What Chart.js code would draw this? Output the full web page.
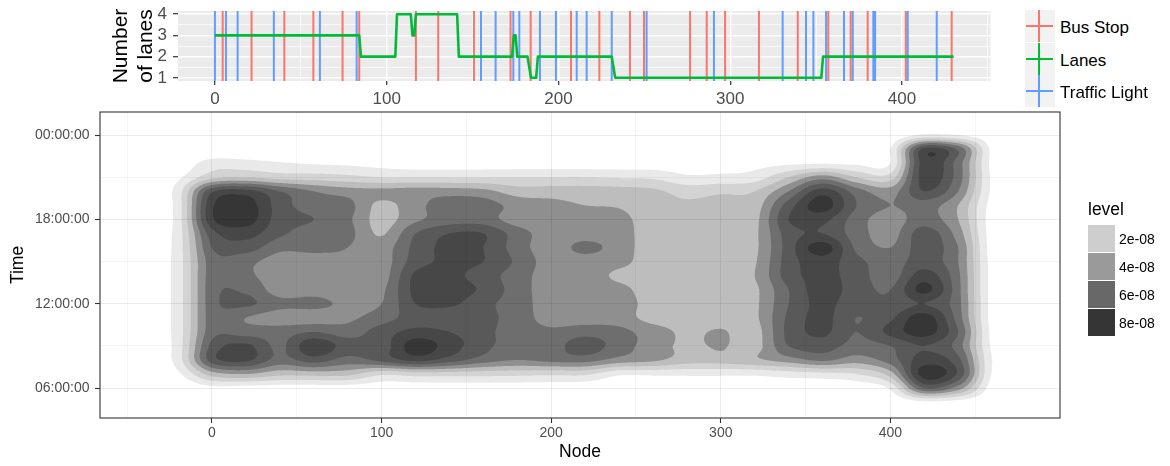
<!DOCTYPE html>
<html lang="en">
<head>
<meta charset="utf-8">
<title>Lanes and activity density by node</title>
<script src="https://cdn.jsdelivr.net/npm/chart.js@4.4.1/dist/chart.umd.min.js"></script>
<style>
  html, body { margin: 0; padding: 0; background: #fff; }
  body { width: 1170px; height: 466px; position: relative; overflow: hidden;
         font-family: "Liberation Sans", Arial, sans-serif; color: #000; }
  canvas { position: absolute; }
  #laneChart { left: 0; top: 0; }
  #densityChart { left: 0; top: 100px; }
  .lane-row { position: absolute; left: 1025px; height: 32px; display: flex; align-items: center; }
  .lane-key { position: relative; width: 30px; height: 32px; background: #f2f2f2; flex: none; }
  .lane-key .v { position: absolute; left: 12.5px; width: 2px; top: 0; bottom: 0; }
  .lane-key .h { position: absolute; left: 1px; width: 27px; top: 15px; height: 2px; }
  .lane-text { margin-left: 5px; padding-top: 3px; font-size: 17px; line-height: 1; white-space: nowrap; }
  .level-title { position: absolute; left: 1088px; top: 201px; font-size: 17.5px; line-height: 1; }
  .level-row { position: absolute; left: 1088px; height: 27px; display: flex; align-items: center; }
  .level-key { width: 27px; height: 27px; flex: none; }
  .level-text { margin-left: 4px; font-size: 14px; line-height: 1; }
</style>
</head>
<body>
<canvas id="laneChart" width="1010" height="108"></canvas>
<canvas id="densityChart" width="1170" height="366"></canvas>
<div id="laneLegend"></div>
<div id="levelLegend"></div>
<script>
// ---------------- Road profile along the route ----------------
const laneNodes  = [0, 84, 85, 105, 106, 114, 115, 116, 117, 141, 142, 173, 174, 175, 176, 182, 183, 184, 187, 188, 231, 232, 233, 353, 354, 430];
const laneCounts = [3, 3, 2, 2, 4, 4, 3, 3, 4, 4, 2, 2, 3, 3, 2, 2, 1.5, 1, 1, 2, 2, 1.5, 1, 1, 2, 2];
const busStopNodes = [4.5, 21.3, 40.4, 57.3, 74.3, 84, 117, 130, 150.8, 172.1, 183.8, 207.3, 223.8,
                      241.6, 249.8, 276.6, 286.3, 297, 316.7, 339.3, 357.1, 370.1, 380, 402.2, 428.9];
const trafficLightNodes = [0, 6.4, 13.2, 34.3, 61.1, 82.5, 154.9, 163.4, 173.7, 177.2, 189.2, 198.5,
                           210.6, 216.4, 231, 251.3, 290.5, 330.5, 344.1, 348.4, 355.8, 366.2, 371.3,
                           383.3, 384.3, 403.3, 420.2];
const laneTicks = [1, 2, 3, 4];
const laneMinorTicks = [1.5, 2.5, 3.5];
const nodeTicks = [0, 100, 200, 300, 400];
const laneNodeMinorTicks = [50, 150, 250, 350, 450];

// ---------------- 2-D density of activity (units of 1e-08) ----------------
const gridNodes = [-40, -20, 0, 20, 40, 60, 80, 100, 120, 140, 160, 180, 200, 220, 240, 260,
                   280, 300, 320, 340, 360, 380, 400, 420, 440, 460, 480];
const gridHours = [25, 24, 23, 22, 21, 20, 19, 18, 17, 16, 15, 14, 13, 12, 11, 10, 9, 8, 7, 6, 5, 4];
const densityRows = [
  [0,0,0,0,0,0,0,0,0,0,0,0,0,0,0,0,0,0,0,0,0,0,0,0,0,0,0],
  [0,0,0,0,0,0,0,0,0,0,0,0,0,0,0,0,0,0,0,0,0,0,0.2,1.2,1.0,0.3,0],
  [0,0,0,0,0,0,0,0,0,0,0,0,0,0,0,0,0,0,0,0,0,0,1.0,7.3,5.8,0.7,0],
  [0,0.2,1.5,1.4,1.1,0.9,0.8,0.6,0.4,0.4,0.4,0.4,0.4,0.4,0.4,0.4,0.3,0.3,0.6,0.8,0.9,0.8,1.0,7.5,5.5,0.7,0],
  [0,0.8,2.7,3.0,2.6,2.5,2.3,2.0,2.0,2.0,2.0,2.0,2.0,2.0,1.9,1.8,1.2,1.3,1.5,3.0,4.5,3.0,2.5,7.5,5.5,0.8,0],
  [0,1.5,6.8,7.4,6.0,5.0,4.5,4.3,4.5,4.5,4.3,3.5,3.5,3.5,3.4,3.2,2.6,2.8,3.0,5.0,7.5,5.5,4.5,7.0,5.0,0.8,0],
  [0,1.5,7.8,8.5,6.5,5.5,5.3,3.7,4.7,5.5,5.5,4.6,4.3,4.0,3.9,3.4,3.2,3.4,3.5,6.5,8.5,6.0,5.0,5.5,4.0,0.6,0],
  [0,1.5,7.8,8.5,6.5,6.0,5.2,3.6,4.8,5.5,5.5,4.5,4.5,4.5,4.3,3.5,3.5,3.5,3.7,7.0,7.3,5.5,4.5,5.5,4.0,0.5,0],
  [0,1.5,6.6,7.4,6.2,5.5,5.3,3.9,6.0,7.0,7.0,5.5,4.5,4.5,4.4,3.5,3.5,3.5,3.8,6.5,7.0,5.5,4.6,6.5,4.5,0.5,0],
  [0,1.5,6.0,6.5,5.3,5.3,5.0,4.5,6.3,7.3,7.0,5.5,4.5,5.3,4.5,3.5,3.5,3.5,3.8,6.5,8.5,5.8,5.0,6.5,5.0,0.5,0],
  [0,1.5,5.5,5.3,4.5,4.5,4.8,4.5,6.5,7.2,7.0,5.8,4.5,4.5,4.3,3.5,3.5,3.5,3.9,6.5,7.5,6.3,5.5,6.5,5.0,0.6,0],
  [0,1.5,5.5,5.2,4.5,4.5,4.5,4.5,7.2,7.3,6.5,5.5,4.5,4.5,3.8,3.5,3.5,3.5,4.0,6.5,7.3,6.5,5.5,7.5,5.2,0.6,0],
  [0,1.5,5.6,5.8,4.5,4.6,4.5,4.8,7.3,7.5,6.8,5.5,4.5,4.5,4.3,3.5,3.5,3.5,3.8,6.0,7.5,6.5,6.0,8.3,5.3,0.6,0],
  [0,1.5,5.6,6.2,5.3,5.3,4.8,5.0,7.0,7.2,6.3,5.5,4.5,4.5,4.5,3.6,3.5,3.5,3.8,6.0,7.3,6.3,6.2,7.0,5.3,0.6,0],
  [0,1.5,5.5,5.0,4.5,4.5,4.8,5.5,6.5,6.3,6.3,5.5,4.6,4.5,4.5,3.6,3.5,3.5,3.8,6.2,7.3,6.0,6.8,8.5,5.5,0.6,0],
  [0,1.5,5.6,5.5,5.5,6.0,5.5,6.5,7.3,7.0,6.3,5.5,5.2,5.6,5.3,4.5,3.8,4.1,3.6,6.3,7.2,6.0,7.3,8.5,6.0,0.7,0],
  [0,1.5,6.3,7.2,5.8,7.8,6.5,6.5,8.5,7.5,6.3,5.5,5.6,6.5,5.5,4.5,3.8,4.1,3.6,6.0,6.5,5.6,6.0,7.0,5.5,0.8,0],
  [0,1.5,6.5,7.2,5.6,6.5,5.6,6.3,7.3,6.5,5.5,5.0,5.3,5.4,4.6,4.2,3.5,3.5,3.8,4.5,5.2,4.5,5.5,7.5,6.3,1.0,0],
  [0,0.8,3.5,4.0,3.3,3.4,3.3,2.2,2.5,2.5,2.4,2.3,2.2,2.2,1.2,1.2,1.2,1.2,1.2,1.5,1.7,2.0,3.5,8.5,6.8,0.9,0],
  [0,0.1,0.7,0.6,0.5,0.5,0.5,0.4,0.4,0.4,0.4,0.4,0.4,0.3,0.2,0.2,0.2,0.2,0.2,0.2,0.2,0.3,1.2,6.0,4.5,0.5,0],
  [0,0,0,0,0,0,0,0,0,0,0,0,0,0,0,0,0,0,0,0,0,0,0.2,0.8,0.6,0.1,0],
  [0,0,0,0,0,0,0,0,0,0,0,0,0,0,0,0,0,0,0,0,0,0,0,0,0,0,0]
];
const densityLevels = [1, 2, 3, 4, 5, 6, 7, 8];         // contour breaks, x 1e-08
const legendLevels = [2, 4, 6, 8];
const densityNodeTicks = [0, 100, 200, 300, 400];
const densityNodeMinorTicks = [-50, 50, 150, 250, 350, 450];
const timeTickHours = [6, 12, 18, 24];
const timeTickLabels = ['06:00:00', '12:00:00', '18:00:00', '00:00:00'];
const timeMinorHours = [9, 15, 21];

// ---------------- styling ----------------
const FONT = '"Liberation Sans", Arial, sans-serif';
const seriesColors = { busStop: '#F8766D', lanes: '#00BA38', trafficLight: '#619CFF' };
// fill of the region above each break (stacked semi-dense polygons)
const levelFills = ['#e9e9e9', '#d3d3d3', '#bdbdbd', '#8f8f8f', '#6e6e6e', '#595959', '#474747', '#363636'];
// colour keys of the level scale
const levelKeyFills = { 2: '#cecece', 4: '#9a9a9a', 6: '#686868', 8: '#353535' };
Chart.defaults.font.family = FONT;

function levelIndex(v) {
  let k = 0;
  while (k < densityLevels.length && v >= densityLevels[k]) k++;
  return k;
}
const levelGrays = levelFills.map(c => parseInt(c.slice(1, 3), 16));
function fillGray(k) { return k === 0 ? 255 : levelGrays[k - 1]; }
function fmtLevel(v) {
  const e = Math.floor(Math.log10(v * 1e-8));
  const m = Math.round(v * 1e-8 / Math.pow(10, e));
  const ee = Math.abs(e);
  return m + 'e' + (e < 0 ? '-' : '+') + (ee < 10 ? '0' : '') + ee;
}

// ---------------- top panel: lanes with stops and lights ----------------
const laneY0 = 0.85, laneY1 = 4.15;
function verticalRules(nodes) {
  const pts = [];
  nodes.forEach(n => { pts.push({x: n, y: laneY0}, {x: n, y: laneY1}, {x: n, y: null}); });
  return pts;
}
const panelBackground = {
  id: 'panelBackground',
  beforeDraw(chart, args, opts) {
    const a = chart.chartArea, ctx = chart.ctx;
    ctx.save();
    ctx.fillStyle = opts.color;
    ctx.fillRect(a.left, a.top, a.right - a.left, a.bottom - a.top);
    ctx.restore();
  }
};

new Chart(document.getElementById('laneChart'), {
  type: 'scatter',
  data: {
    datasets: [
      { label: 'Lanes', data: laneNodes.map((n, i) => ({x: n, y: laneCounts[i]})), showLine: true,
        borderColor: seriesColors.lanes, borderWidth: 2.6, pointRadius: 0, borderJoinStyle: 'round' },
      { label: 'Traffic Light', data: verticalRules(trafficLightNodes), showLine: true, spanGaps: false,
        borderColor: seriesColors.trafficLight, borderWidth: 2, pointRadius: 0 },
      { label: 'Bus Stop', data: verticalRules(busStopNodes), showLine: true, spanGaps: false,
        borderColor: seriesColors.busStop, borderWidth: 2, pointRadius: 0 }
    ]
  },
  options: {
    responsive: false, animation: false, events: [],
    layout: { padding: { left: 0, right: 19.5, top: 11, bottom: 0 } },
    plugins: { legend: { display: false }, tooltip: { enabled: false }, panelBackground: { color: '#ebebeb' } },
    scales: {
      x: {
        type: 'linear', min: -21.5, max: 451.5,
        afterBuildTicks: s => { s.ticks = [...nodeTicks, ...laneNodeMinorTicks].sort((a, b) => a - b).map(v => ({value: v})); },
        ticks: { autoSkip: false, maxRotation: 0, padding: 4, color: '#4d4d4d', font: { size: 17 },
                 callback: v => nodeTicks.includes(v) ? String(v) : '' },
        grid: { color: '#ffffff', lineWidth: c => nodeTicks.includes(c.tick.value) ? 1.4 : 0.7,
                tickLength: 4, tickWidth: 1.2,
                tickColor: c => nodeTicks.includes(c.tick.value) ? '#333333' : 'rgba(0,0,0,0)' },
        border: { display: false },
        afterFit: s => { s.height = 27; s.paddingLeft = 0; s.paddingRight = 0; }
      },
      y: {
        type: 'linear', min: laneY0, max: laneY1,
        afterBuildTicks: s => { s.ticks = [...laneTicks, ...laneMinorTicks].sort((a, b) => a - b).map(v => ({value: v})); },
        ticks: { autoSkip: false, padding: 6, color: '#4d4d4d', font: { size: 17 },
                 callback: v => laneTicks.includes(v) ? String(v) : '' },
        grid: { color: '#ffffff', lineWidth: c => laneTicks.includes(c.tick.value) ? 1.4 : 0.7,
                tickLength: 5, tickWidth: 1.2,
                tickColor: c => laneTicks.includes(c.tick.value) ? '#333333' : 'rgba(0,0,0,0)' },
        border: { display: false },
        title: { display: true, text: ['Number', 'of lanes'], color: '#000', font: { size: 21, lineHeight: 1.2 },
                 padding: { top: 108.4, bottom: 0 } },
        afterFit: s => { s.width = 178; s.paddingTop = 0; s.paddingBottom = 0; }
      }
    }
  },
  plugins: [panelBackground]
});

// ---------------- bottom panel: filled density contours ----------------
const densityLayer = {
  id: 'densityLayer',
  beforeDraw(chart) {
    const { ctx, chartArea: area, scales } = chart;
    const xs = scales.x, ys = scales.y;
    const w = Math.round(area.right - area.left), h = Math.round(area.bottom - area.top);
    const off = document.createElement('canvas');
    off.width = w; off.height = h;
    const octx = off.getContext('2d');
    const img = octx.createImageData(w, h);
    const SS = 3;
    const nCols = gridNodes.length, nRows = gridHours.length;
    const nodeStep = gridNodes[1] - gridNodes[0];
    const hourStep = gridHours[0] - gridHours[1];
    const cr = (pos, n) => {
      const i = Math.floor(pos), t = pos - i, t2 = t * t, t3 = t2 * t;
      const idx = [i - 1, i, i + 1, i + 2].map(k => Math.min(n - 1, Math.max(0, k)));
      const wts = [0.5 * (-t + 2 * t2 - t3), 0.5 * (2 - 5 * t2 + 3 * t3),
                   0.5 * (t + 4 * t2 - 3 * t3), 0.5 * (-t2 + t3)];
      return { idx, wts };
    };
    const colW = [];
    for (let p = 0; p < w * SS; p++) {
      const node = xs.getValueForPixel(area.left + (p + 0.5) / SS);
      colW.push(cr((node - gridNodes[0]) / nodeStep, nCols));
    }
    const rowW = [];
    for (let p = 0; p < h * SS; p++) {
      const hour = ys.getValueForPixel(area.top + (p + 0.5) / SS);
      rowW.push(cr((gridHours[0] - hour) / hourStep, nRows));
    }
    const sub = [];
    for (let s = 0; s < SS; s++) sub.push(new Float64Array(nCols));
    for (let py = 0; py < h; py++) {
      for (let s = 0; s < SS; s++) {
        const { idx, wts } = rowW[py * SS + s];
        const r = sub[s];
        for (let c = 0; c < nCols; c++) {
          r[c] = wts[0] * densityRows[idx[0]][c] + wts[1] * densityRows[idx[1]][c] +
                 wts[2] * densityRows[idx[2]][c] + wts[3] * densityRows[idx[3]][c];
        }
      }
      for (let px = 0; px < w; px++) {
        let sum = 0;
        for (let sx = 0; sx < SS; sx++) {
          const { idx, wts } = colW[px * SS + sx];
          for (let s = 0; s < SS; s++) {
            const r = sub[s];
            const v = wts[0] * r[idx[0]] + wts[1] * r[idx[1]] + wts[2] * r[idx[2]] + wts[3] * r[idx[3]];
            sum += fillGray(levelIndex(v));
          }
        }
        const g = sum / (SS * SS), o = (py * w + px) * 4;
        img.data[o] = g; img.data[o + 1] = g; img.data[o + 2] = g; img.data[o + 3] = 255;
      }
    }
    octx.putImageData(img, 0, 0);
    ctx.drawImage(off, area.left, area.top);
  }
};
const panelBorder = {
  id: 'panelBorder',
  afterDraw(chart) {
    const a = chart.chartArea, ctx = chart.ctx;
    ctx.save();
    ctx.strokeStyle = '#333333';
    ctx.lineWidth = 1.1;
    ctx.strokeRect(a.left, a.top, a.right - a.left, a.bottom - a.top);
    ctx.restore();
  }
};
const isMajorNode = c => densityNodeTicks.includes(c.tick.value);
const isMajorHour = c => timeTickHours.includes(c.tick.value);

new Chart(document.getElementById('densityChart'), {
  type: 'scatter',
  data: { datasets: [] },
  options: {
    responsive: false, animation: false, events: [],
    layout: { padding: { left: 0, right: 110, top: 12, bottom: 0 } },
    plugins: { legend: { display: false }, tooltip: { enabled: false } },
    scales: {
      x: {
        type: 'linear', min: -66, max: 500,
        afterBuildTicks: s => { s.ticks = [...densityNodeTicks, ...densityNodeMinorTicks].sort((a, b) => a - b).map(v => ({value: v})); },
        ticks: { autoSkip: false, maxRotation: 0, padding: 1.5, color: '#4d4d4d', font: { size: 14 },
                 callback: v => densityNodeTicks.includes(v) ? String(v) : '' },
        grid: { color: 'rgba(0,0,0,0.08)', lineWidth: c => isMajorNode(c) ? 1 : 0.5,
                tickLength: 5, tickWidth: 1.1,
                tickColor: c => isMajorNode(c) ? '#333333' : 'rgba(0,0,0,0)' },
        border: { display: false },
        title: { display: true, text: 'Node', color: '#000', font: { size: 17.5, lineHeight: 1.2 },
                 padding: { top: 0, bottom: 3.5 } },
        afterFit: s => { s.height = 48; s.paddingLeft = 0; s.paddingRight = 0; }
      },
      y: {
        type: 'linear', min: 3.87, max: 25.64,
        afterBuildTicks: s => { s.ticks = [...timeTickHours, ...timeMinorHours].sort((a, b) => a - b).map(v => ({value: v})); },
        ticks: { autoSkip: false, padding: 5.5, color: '#4d4d4d', font: { size: 14 },
                 callback: v => { const i = timeTickHours.indexOf(v); return i >= 0 ? timeTickLabels[i] : ''; } },
        grid: { color: 'rgba(0,0,0,0.08)', lineWidth: c => isMajorHour(c) ? 1 : 0.5,
                tickLength: 5, tickWidth: 1.1,
                tickColor: c => isMajorHour(c) ? '#333333' : 'rgba(0,0,0,0)' },
        border: { display: false },
        title: { display: true, text: 'Time', color: '#000', font: { size: 17.5, lineHeight: 1.2 },
                 padding: { top: 7.5, bottom: 0 } },
        afterFit: s => { s.width = 100; s.paddingTop = 0; s.paddingBottom = 0; }
      }
    }
  },
  plugins: [densityLayer, panelBorder]
});

// ---------------- legends ----------------
const laneLegendLabels = ['Bus Stop', 'Lanes', 'Traffic Light'];
const laneLegendColors = [seriesColors.busStop, seriesColors.lanes, seriesColors.trafficLight];
const laneLegend = document.getElementById('laneLegend');
laneLegendLabels.forEach((label, i) => {
  const row = document.createElement('div');
  row.className = 'lane-row';
  row.style.top = (10 + i * 32.6) + 'px';
  const key = document.createElement('span');
  key.className = 'lane-key';
  const v = document.createElement('i'); v.className = 'v'; v.style.background = laneLegendColors[i];
  const hz = document.createElement('i'); hz.className = 'h'; hz.style.background = laneLegendColors[i];
  key.append(v, hz);
  const txt = document.createElement('span');
  txt.className = 'lane-text';
  txt.textContent = label;
  row.append(key, txt);
  laneLegend.appendChild(row);
});

const levelLegend = document.getElementById('levelLegend');
const title = document.createElement('div');
title.className = 'level-title';
title.textContent = 'level';
levelLegend.appendChild(title);
legendLevels.forEach((lv, i) => {
  const row = document.createElement('div');
  row.className = 'level-row';
  row.style.top = (225 + i * 28) + 'px';
  const key = document.createElement('span');
  key.className = 'level-key';
  key.style.background = levelKeyFills[lv];
  const txt = document.createElement('span');
  txt.className = 'level-text';
  txt.textContent = fmtLevel(lv);
  row.append(key, txt);
  levelLegend.appendChild(row);
});
</script>
</body>
</html>
